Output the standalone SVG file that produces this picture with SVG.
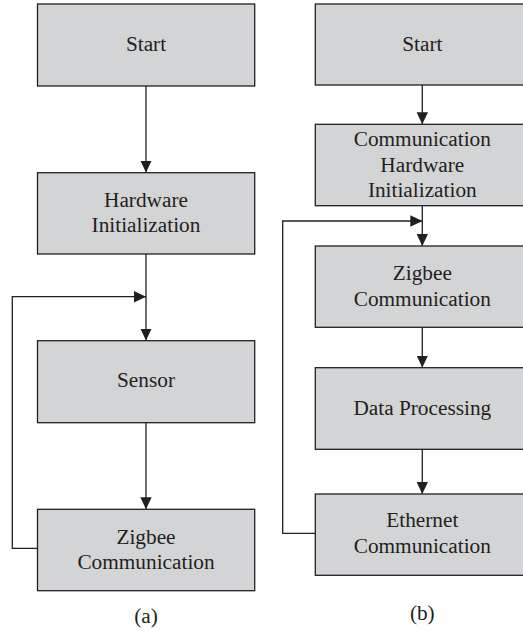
<svg xmlns="http://www.w3.org/2000/svg" width="523" height="631" viewBox="0 0 523 631">
<style>
.box{fill:#d3d4d6;stroke:#231f20;stroke-width:1.3}
.t{font-family:"Liberation Serif","DejaVu Serif",serif;font-size:21.3px;fill:#231f20;text-anchor:middle}
.c{fill:none;stroke:#231f20;stroke-width:1.3}
</style>
<defs>
<marker id="ah" markerUnits="userSpaceOnUse" markerWidth="12" markerHeight="12" refX="12" refY="6" orient="auto">
<path d="M0,0.3 L12,6 L0,11.7 z" fill="#231f20"/>
</marker>
</defs>
<rect width="523" height="631" fill="#ffffff"/>
<g id="connectors">
<line class="c" x1="146" y1="86" x2="146" y2="172.5" marker-end="url(#ah)"/>
<line class="c" x1="146" y1="254" x2="146" y2="340.5" marker-end="url(#ah)"/>
<polyline class="c" points="37.5,548.3 12.3,548.3 12.3,296.7 146,296.7" marker-end="url(#ah)"/>
<line class="c" x1="146" y1="422.7" x2="146" y2="509.2" marker-end="url(#ah)"/>
<line class="c" x1="422.3" y1="85" x2="422.3" y2="124.2" marker-end="url(#ah)"/>
<line class="c" x1="422.3" y1="205.7" x2="422.3" y2="246" marker-end="url(#ah)"/>
<polyline class="c" points="315.3,533.3 282.7,533.3 282.7,221 422.3,221" marker-end="url(#ah)"/>
<line class="c" x1="422.3" y1="327.3" x2="422.3" y2="367.6" marker-end="url(#ah)"/>
<line class="c" x1="422.3" y1="449.3" x2="422.3" y2="493.9" marker-end="url(#ah)"/>
</g>
<g id="a-start"><rect class="box" x="37.5" y="4" width="217.2" height="82"/><text class="t" x="146" y="50.5">Start</text></g>
<g id="a-hw"><rect class="box" x="37.5" y="172.7" width="217.2" height="81.3"/><text class="t" x="146" y="207">Hardware</text><text class="t" x="146" y="232">Initialization</text></g>
<g id="a-sensor"><rect class="box" x="37.5" y="340.7" width="217.2" height="82"/><text class="t" x="146" y="387">Sensor</text></g>
<g id="a-zigbee"><rect class="box" x="37.5" y="509.3" width="217.2" height="81.4"/><text class="t" x="146" y="543.5">Zigbee</text><text class="t" x="146" y="568.5">Communication</text></g>
<g id="a-label"><text class="t" x="146" y="623">(a)</text></g>
<g id="b-start"><rect class="box" x="315.3" y="4" width="214" height="81"/><text class="t" x="422.3" y="50.5">Start</text></g>
<g id="b-hw"><rect class="box" x="315.3" y="124.3" width="214" height="81.4"/><text class="t" x="422.3" y="146">Communication</text><text class="t" x="422.3" y="171.5">Hardware</text><text class="t" x="422.3" y="197">Initialization</text></g>
<g id="b-zigbee"><rect class="box" x="315.3" y="246" width="214" height="81.3"/><text class="t" x="422.3" y="280">Zigbee</text><text class="t" x="422.3" y="305.5">Communication</text></g>
<g id="b-data"><rect class="box" x="315.3" y="367.7" width="214" height="81.6"/><text class="t" x="422.3" y="415">Data Processing</text></g>
<g id="b-ethernet"><rect class="box" x="315.3" y="494" width="214" height="81.3"/><text class="t" x="422.3" y="527">Ethernet</text><text class="t" x="422.3" y="553">Communication</text></g>
<g id="b-label"><text class="t" x="422.3" y="620">(b)</text></g>
</svg>
